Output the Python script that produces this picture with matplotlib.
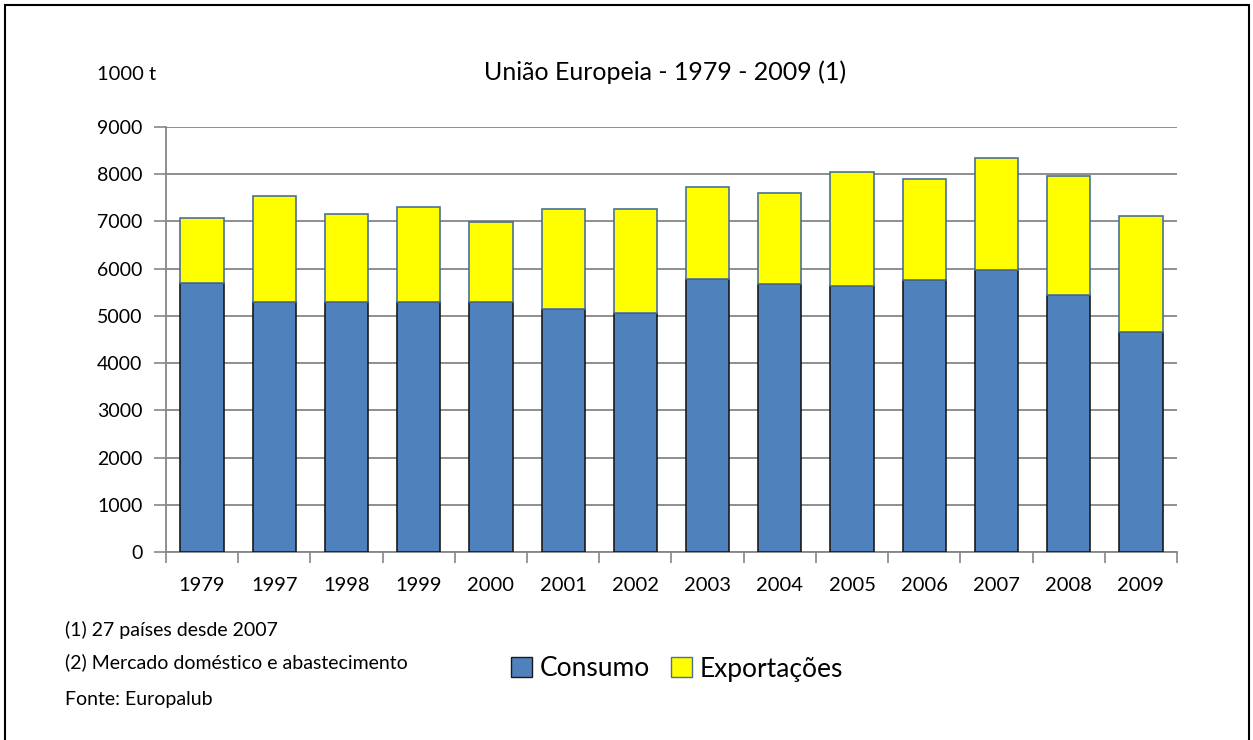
import matplotlib.pyplot as plt
from matplotlib.patches import Rectangle, Patch
import numpy as np

plt.rcParams['font.family'] = ['Lato', 'DejaVu Sans']

anos = ['1979', '1997', '1998', '1999', '2000', '2001', '2002',
        '2003', '2004', '2005', '2006', '2007', '2008', '2009']
consumo = [5700, 5300, 5300, 5300, 5300, 5150, 5070,
           5780, 5670, 5640, 5750, 5970, 5450, 4660]
total = [7080, 7540, 7160, 7310, 6980, 7270, 7270,
         7730, 7600, 8050, 7900, 8350, 7970, 7120]
exportacoes = [t - c for t, c in zip(total, consumo)]
y_ticks = [0, 1000, 2000, 3000, 4000, 5000, 6000, 7000, 8000, 9000]

W, H = 1253, 740
fig = plt.figure(figsize=(W / 100, H / 100), dpi=100)
ax = fig.add_axes([166 / W, 1 - 552 / H, (1177 - 166) / W, (552 - 127) / H])

x = np.arange(len(anos))
ax.bar(x, consumo, width=0.6, color='#4F81BD', edgecolor='#1a1a1a', linewidth=1.2, zorder=3)
ax.bar(x, exportacoes, width=0.6, bottom=consumo, color='#FFFF00', edgecolor='#4a6f9c',
       linewidth=1.2, zorder=3)

ax.set_xlim(-0.5, len(anos) - 0.5)
ax.set_ylim(0, 9000)
ax.set_yticks(y_ticks)
ax.set_yticklabels([str(v) for v in y_ticks], fontsize=14)
ax.set_xticks(x)
ax.set_xticklabels(anos, fontsize=14.5)
ax.tick_params(axis='x', length=0, pad=18)
ax.set_xticks(np.arange(-0.5, len(anos), 1), minor=True)
ax.tick_params(axis='x', which='minor', length=8, color='#868686', width=1.2)
ax.tick_params(axis='y', length=9, color='#868686', width=1.2, pad=8)

ax.yaxis.grid(True, color='#868686', linewidth=1.3, zorder=0)
ax.set_axisbelow(True)
for s in ['top', 'right']:
    ax.spines[s].set_visible(False)
for s in ['left', 'bottom']:
    ax.spines[s].set_color('#868686')
    ax.spines[s].set_linewidth(1.3)

fig.text(665 / W, 1 - 72 / H, 'União Europeia - 1979 - 2009 (1)', ha='center', va='center', fontsize=18)
fig.text(97 / W, 1 - 75 / H, '1000 t', ha='left', va='center', fontsize=14.5)

fig.text(65 / W, 1 - 630 / H, '(1) 27 países desde 2007', ha='left', va='center', fontsize=14)
fig.text(65 / W, 1 - 662 / H, '(2) Mercado doméstico e abastecimento', ha='left', va='center', fontsize=14)
fig.text(65 / W, 1 - 699 / H, 'Fonte: Europalub', ha='left', va='center', fontsize=14)

handles = [Patch(facecolor='#4F81BD', edgecolor='#1a1a1a', label='Consumo'),
           Patch(facecolor='#FFFF00', edgecolor='#4a6f9c', label='Exportações')]
fig.legend(handles=handles, loc='center', bbox_to_anchor=(677 / W, 1 - 669 / H), ncol=2,
           frameon=False, fontsize=19, handlelength=0.8, handleheight=0.8,
           handletextpad=0.3, columnspacing=0.8)

fig.patches.append(Rectangle((5 / W, -0.05), (1249 - 5) / W, 1.05 - 5 / H,
                             transform=fig.transFigure, fill=False, edgecolor='black',
                             linewidth=1.5))

fig.savefig('out.png', dpi=100)
